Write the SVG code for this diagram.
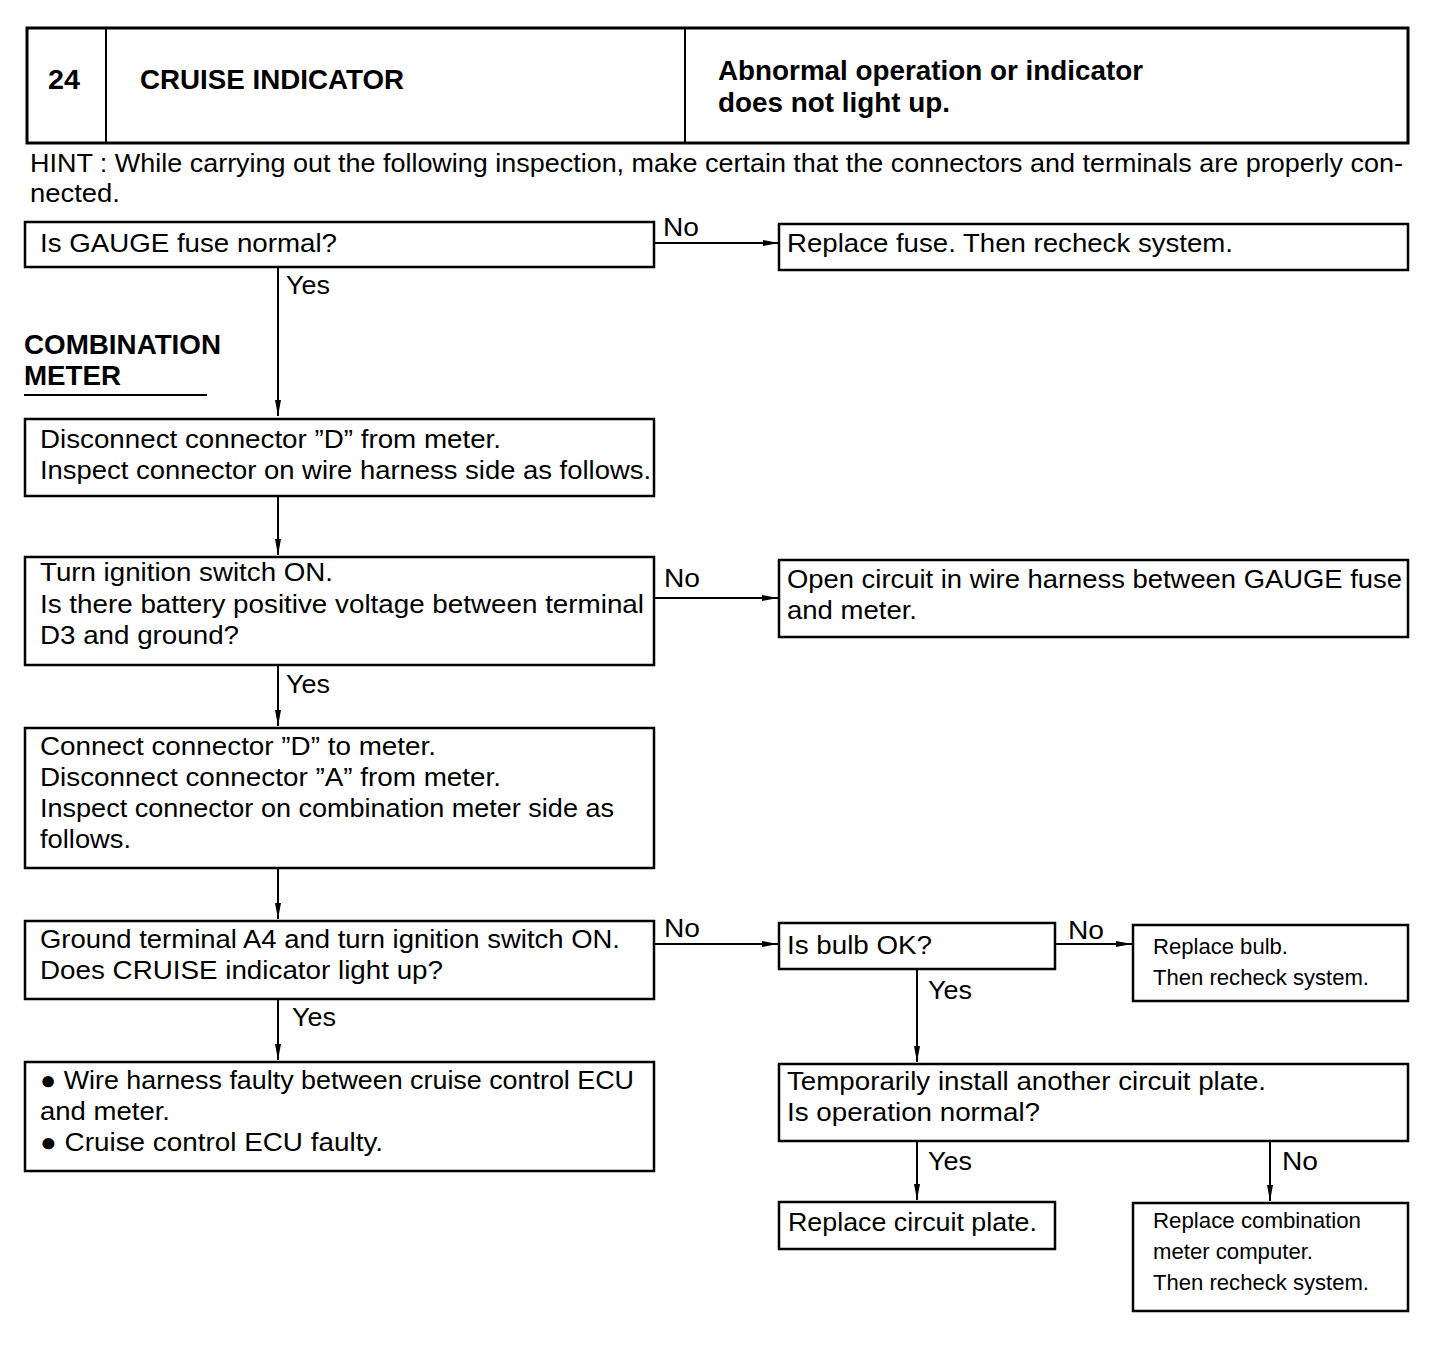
<svg xmlns="http://www.w3.org/2000/svg" width="1456" height="1350" viewBox="0 0 1456 1350">
<defs>
<style>
.box{fill:#fff;stroke:#000;stroke-width:2.5}
text{font-family:"Liberation Sans",Arial,sans-serif;fill:#000}
.t{font-size:26px}
.s{font-size:22px}
.b{font-size:28px;font-weight:bold}
.c{stroke:#000;stroke-width:2;fill:none;marker-end:url(#ah)}
</style>
<marker id="ah" viewBox="0 0 16 8" refX="16" refY="4" markerWidth="16" markerHeight="8" markerUnits="userSpaceOnUse" orient="auto">
<path d="M0,1 L16,4 L0,7 Z" fill="#000"/>
</marker>
</defs>
<rect width="1456" height="1350" fill="#fff"/>

<g id="header">
<rect x="27" y="28" width="1381" height="115" fill="#fff" stroke="#000" stroke-width="3"/>
<line x1="106" y1="28" x2="106" y2="143" stroke="#000" stroke-width="2"/>
<line x1="685" y1="28" x2="685" y2="143" stroke="#000" stroke-width="2"/>
<text class="b" x="48" y="89" textLength="32" lengthAdjust="spacingAndGlyphs">24</text>
<text class="b" x="140" y="89" textLength="264" lengthAdjust="spacingAndGlyphs">CRUISE INDICATOR</text>
<text class="b" x="718" y="80" textLength="425" lengthAdjust="spacingAndGlyphs">Abnormal operation or indicator</text>
<text class="b" x="718" y="112" textLength="232" lengthAdjust="spacingAndGlyphs">does not light up.</text>
</g>

<g id="hint">
<text class="t" x="30" y="172" textLength="1373" lengthAdjust="spacingAndGlyphs">HINT : While carrying out the following inspection, make certain that the connectors and terminals are properly con-</text>
<text class="t" x="30" y="202" textLength="90" lengthAdjust="spacingAndGlyphs">nected.</text>
</g>

<g id="section-label">
<text class="b" x="24" y="354" textLength="197" lengthAdjust="spacingAndGlyphs">COMBINATION</text>
<text class="b" x="24" y="385" textLength="97" lengthAdjust="spacingAndGlyphs">METER</text>
<line x1="24" y1="395" x2="207" y2="395" stroke="#000" stroke-width="2"/>
</g>

<g id="connectors">
<line class="c" x1="654" y1="243" x2="779" y2="243"/>
<line class="c" x1="278" y1="267" x2="278" y2="416"/>
<line class="c" x1="278" y1="496" x2="278" y2="555"/>
<line class="c" x1="654" y1="598" x2="778" y2="598"/>
<line class="c" x1="278" y1="665" x2="278" y2="726"/>
<line class="c" x1="278" y1="868" x2="278" y2="919"/>
<line class="c" x1="654" y1="944" x2="778" y2="944"/>
<line class="c" x1="1055" y1="944" x2="1132" y2="944"/>
<line class="c" x1="278" y1="999" x2="278" y2="1060"/>
<line class="c" x1="917" y1="969" x2="917" y2="1062"/>
<line class="c" x1="917" y1="1141" x2="917" y2="1200"/>
<line class="c" x1="1270" y1="1141" x2="1270" y2="1201"/>
<text class="t" x="663" y="236" textLength="36" lengthAdjust="spacingAndGlyphs">No</text>
<text class="t" x="286" y="294" textLength="44" lengthAdjust="spacingAndGlyphs">Yes</text>
<text class="t" x="664" y="587" textLength="36" lengthAdjust="spacingAndGlyphs">No</text>
<text class="t" x="286" y="693" textLength="44" lengthAdjust="spacingAndGlyphs">Yes</text>
<text class="t" x="664" y="937" textLength="36" lengthAdjust="spacingAndGlyphs">No</text>
<text class="t" x="1068" y="939" textLength="36" lengthAdjust="spacingAndGlyphs">No</text>
<text class="t" x="292" y="1026" textLength="44" lengthAdjust="spacingAndGlyphs">Yes</text>
<text class="t" x="928" y="999" textLength="44" lengthAdjust="spacingAndGlyphs">Yes</text>
<text class="t" x="928" y="1170" textLength="44" lengthAdjust="spacingAndGlyphs">Yes</text>
<text class="t" x="1282" y="1170" textLength="36" lengthAdjust="spacingAndGlyphs">No</text>
</g>

<g id="n1">
<rect class="box" x="25" y="222" width="629" height="45"/>
<text class="t" x="40" y="252" textLength="297" lengthAdjust="spacingAndGlyphs">Is GAUGE fuse normal?</text>
</g>
<g id="n2">
<rect class="box" x="779" y="224" width="629" height="46"/>
<text class="t" x="787" y="252" textLength="446" lengthAdjust="spacingAndGlyphs">Replace fuse. Then recheck system.</text>
</g>
<g id="n3">
<rect class="box" x="25" y="419" width="629" height="77"/>
<text class="t" x="40" y="448" textLength="461" lengthAdjust="spacingAndGlyphs">Disconnect connector ”D” from meter.</text>
<text class="t" x="40" y="479" textLength="611" lengthAdjust="spacingAndGlyphs">Inspect connector on wire harness side as follows.</text>
</g>
<g id="n4">
<rect class="box" x="25" y="557" width="629" height="108"/>
<text class="t" x="40" y="581" textLength="293" lengthAdjust="spacingAndGlyphs">Turn ignition switch ON.</text>
<text class="t" x="40" y="613" textLength="604" lengthAdjust="spacingAndGlyphs">Is there battery positive voltage between terminal</text>
<text class="t" x="40" y="644" textLength="199" lengthAdjust="spacingAndGlyphs">D3 and ground?</text>
</g>
<g id="n5">
<rect class="box" x="779" y="560" width="629" height="77"/>
<text class="t" x="787" y="588" textLength="615" lengthAdjust="spacingAndGlyphs">Open circuit in wire harness between GAUGE fuse</text>
<text class="t" x="787" y="619" textLength="130" lengthAdjust="spacingAndGlyphs">and meter.</text>
</g>
<g id="n6">
<rect class="box" x="25" y="728" width="629" height="140"/>
<text class="t" x="40" y="755" textLength="396" lengthAdjust="spacingAndGlyphs">Connect connector ”D” to meter.</text>
<text class="t" x="40" y="786" textLength="461" lengthAdjust="spacingAndGlyphs">Disconnect connector ”A” from meter.</text>
<text class="t" x="40" y="817" textLength="574" lengthAdjust="spacingAndGlyphs">Inspect connector on combination meter side as</text>
<text class="t" x="40" y="848" textLength="91" lengthAdjust="spacingAndGlyphs">follows.</text>
</g>
<g id="n7">
<rect class="box" x="25" y="921" width="629" height="78"/>
<text class="t" x="40" y="948" textLength="580" lengthAdjust="spacingAndGlyphs">Ground terminal A4 and turn ignition switch ON.</text>
<text class="t" x="40" y="979" textLength="403" lengthAdjust="spacingAndGlyphs">Does CRUISE indicator light up?</text>
</g>
<g id="n8">
<rect class="box" x="779" y="923" width="276" height="46"/>
<text class="t" x="787" y="954" textLength="145" lengthAdjust="spacingAndGlyphs">Is bulb OK?</text>
</g>
<g id="n9">
<rect class="box" x="1133" y="925" width="275" height="76"/>
<text class="s" x="1153" y="954" textLength="135" lengthAdjust="spacingAndGlyphs">Replace bulb.</text>
<text class="s" x="1153" y="985" textLength="216" lengthAdjust="spacingAndGlyphs">Then recheck system.</text>
</g>
<g id="n10">
<rect class="box" x="25" y="1062" width="629" height="109"/>
<text class="t" x="40" y="1089" textLength="594" lengthAdjust="spacingAndGlyphs">● Wire harness faulty between cruise control ECU</text>
<text class="t" x="40" y="1120" textLength="130" lengthAdjust="spacingAndGlyphs">and meter.</text>
<text class="t" x="40" y="1151" textLength="343" lengthAdjust="spacingAndGlyphs">● Cruise control ECU faulty.</text>
</g>
<g id="n11">
<rect class="box" x="779" y="1064" width="629" height="77"/>
<text class="t" x="787" y="1090" textLength="479" lengthAdjust="spacingAndGlyphs">Temporarily install another circuit plate.</text>
<text class="t" x="787" y="1121" textLength="253" lengthAdjust="spacingAndGlyphs">Is operation normal?</text>
</g>
<g id="n12">
<rect class="box" x="779" y="1202" width="276" height="47"/>
<text class="t" x="788" y="1231" textLength="249" lengthAdjust="spacingAndGlyphs">Replace circuit plate.</text>
</g>
<g id="n13">
<rect class="box" x="1133" y="1203" width="275" height="108"/>
<text class="s" x="1153" y="1228" textLength="208" lengthAdjust="spacingAndGlyphs">Replace combination</text>
<text class="s" x="1153" y="1259" textLength="160" lengthAdjust="spacingAndGlyphs">meter computer.</text>
<text class="s" x="1153" y="1290" textLength="216" lengthAdjust="spacingAndGlyphs">Then recheck system.</text>
</g>
</svg>
